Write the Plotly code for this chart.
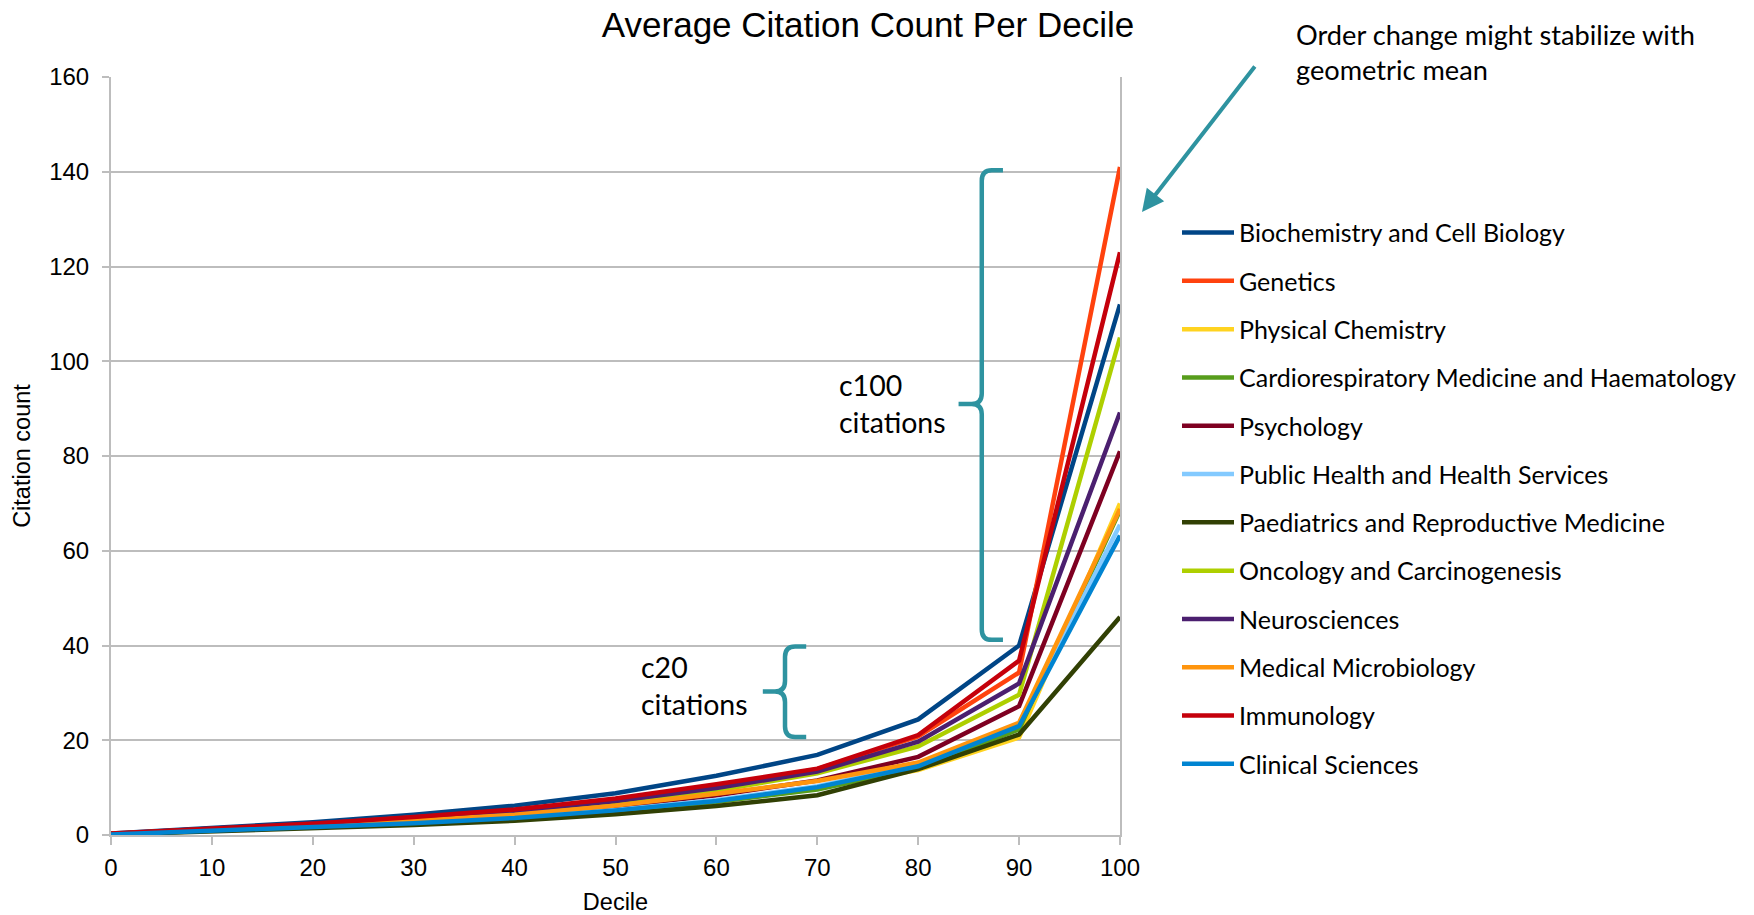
import plotly.graph_objects as go

deciles = [0, 10, 20, 30, 40, 50, 60, 70, 80, 90, 100]

biochemistry = [0.3, 1.5, 2.7, 4.3, 6.2, 8.8, 12.5, 16.9, 24.4, 40.0, 112.0]
genetics = [0.2, 1.3, 2.3, 3.7, 5.1, 7.4, 10.2, 13.9, 20.8, 34.3, 141.0]
physical_chemistry = [0.1, 0.9, 1.6, 2.5, 3.5, 5.0, 7.0, 10.0, 13.7, 20.6, 70.0]
cardiorespiratory = [0.1, 1.0, 1.7, 2.6, 3.6, 5.0, 7.0, 9.6, 14.2, 22.3, 68.5]
psychology = [0.2, 1.2, 2.0, 3.1, 4.4, 6.0, 8.4, 11.5, 16.5, 27.2, 81.0]
public_health = [0.1, 1.0, 1.7, 2.7, 3.8, 5.3, 7.4, 10.3, 14.8, 23.4, 65.5]
paediatrics = [0.1, 0.8, 1.3, 2.1, 3.0, 4.4, 6.1, 8.4, 13.9, 21.2, 46.0]
oncology = [0.2, 1.2, 2.2, 3.4, 4.8, 6.8, 9.4, 13.0, 18.7, 29.6, 105.0]
neurosciences = [0.2, 1.3, 2.3, 3.6, 5.0, 7.2, 9.9, 13.4, 19.7, 32.0, 89.2]
medical_microbiology = [0.2, 1.1, 1.9, 3.0, 4.3, 6.2, 8.7, 11.4, 15.3, 23.7, 68.8]
immunology = [0.3, 1.4, 2.4, 3.8, 5.4, 7.7, 10.7, 14.0, 21.1, 36.8, 123.0]
clinical_sciences = [0.1, 0.9, 1.6, 2.5, 3.6, 5.2, 7.2, 10.1, 14.5, 23.0, 63.2]

series_names = [
    "Biochemistry and Cell Biology",
    "Genetics",
    "Physical Chemistry",
    "Cardiorespiratory Medicine and Haematology",
    "Psychology",
    "Public Health and Health Services",
    "Paediatrics and Reproductive Medicine",
    "Oncology and Carcinogenesis",
    "Neurosciences",
    "Medical Microbiology",
    "Immunology",
    "Clinical Sciences",
]
series_values = [
    biochemistry, genetics, physical_chemistry, cardiorespiratory, psychology,
    public_health, paediatrics, oncology, neurosciences, medical_microbiology,
    immunology, clinical_sciences,
]
series_colors = [
    "#004586", "#ff420e", "#ffd320", "#579d1c", "#7e0021", "#83caff",
    "#314004", "#aecf00", "#4b1f6f", "#ff950e", "#c5000b", "#0084d1",
]

TEAL = "#2e93a0"
GRID = "#bdbdbd"

fig = go.Figure()
for name, vals, col in zip(series_names, series_values, series_colors):
    fig.add_trace(go.Scatter(
        x=deciles, y=vals, name=name, mode="lines",
        line=dict(color=col, width=4.5),
        legendgroup=name,
    ))


def brace(xv, xe, xt, yt, yb, ym, rx=1.0, ry=2.2):
    return (
        f"M {xe},{yt} L {xv + rx},{yt} Q {xv},{yt} {xv},{yt - ry} "
        f"L {xv},{ym + ry} Q {xv},{ym} {xv - rx},{ym} L {xt},{ym} "
        f"M {xv - rx},{ym} Q {xv},{ym} {xv},{ym - ry} "
        f"L {xv},{yb + ry} Q {xv},{yb} {xv + rx},{yb} L {xe},{yb}"
    )


shapes = [
    dict(type="path", xref="x", yref="y",
         path=brace(86.3, 88.4, 84.0, 140.3, 41.2, 91.0),
         line=dict(color=TEAL, width=4.5)),
    dict(type="path", xref="x", yref="y",
         path=brace(66.8, 68.9, 64.6, 39.8, 20.7, 30.3),
         line=dict(color=TEAL, width=4.5)),
]

ann_font = "Lato, 'Open Sans', sans-serif"
annotations = [
    dict(x=72.0, y=91.0, xref="x", yref="y", text="c100<br>citations",
         showarrow=False, xanchor="left", yanchor="middle", align="left",
         font=dict(family=ann_font, size=28.5, color="#000000")),
    dict(x=52.3, y=31.5, xref="x", yref="y", text="c20<br>citations",
         showarrow=False, xanchor="left", yanchor="middle", align="left",
         font=dict(family=ann_font, size=28.5, color="#000000")),
    dict(x=1.172, y=1.033, xref="paper", yref="paper",
         text="Order change might stabilize with<br>geometric mean",
         showarrow=False, xanchor="left", yanchor="middle", align="left",
         font=dict(family=ann_font, size=27.2, color="#000000")),
    dict(x=1.0218, y=0.8219, xref="paper", yref="paper", text="",
         showarrow=True, ax=114, ay=-147, axref="pixel", ayref="pixel",
         arrowhead=2, arrowsize=1.1, arrowwidth=4, arrowcolor=TEAL),
]

fig.update_layout(
    width=1754, height=915,
    margin=dict(l=111, r=634, t=77, b=80),
    paper_bgcolor="#ffffff", plot_bgcolor="#ffffff",
    font=dict(family="'Liberation Sans', Arial, sans-serif", color="#000000"),
    title=dict(
        text="Average Citation Count Per Decile",
        x=0.4949, xref="container", xanchor="center",
        y=0.973, yref="container", yanchor="middle",
        font=dict(family="'Liberation Sans', Arial, sans-serif", size=35, color="#000000"),
    ),
    xaxis=dict(
        range=[0, 100], tickvals=deciles, ticks="outside", ticklen=8,
        tickcolor=GRID, tickwidth=2, ticklabelstandoff=2,
        showgrid=False, showline=True, linecolor=GRID, linewidth=2,
        zeroline=False, automargin=False,
        tickfont=dict(size=24),
        title=dict(text="Decile", font=dict(size=23.5), standoff=19),
    ),
    yaxis=dict(
        range=[0, 160], dtick=20, ticks="outside", ticklen=7,
        tickcolor=GRID, tickwidth=2, ticklabelstandoff=8,
        showgrid=True, gridcolor=GRID, gridwidth=2,
        showline=True, linecolor=GRID, linewidth=2, mirror=True,
        zeroline=False, automargin=False,
        tickfont=dict(size=24),
        title=dict(text="Citation count", font=dict(size=23.5), standoff=12),
    ),
    legend=dict(
        x=1177 / 1754, xref="container", xanchor="left",
        y=1 - 209.8 / 915, yref="container", yanchor="top",
        font=dict(family=ann_font, size=25, color="#000000"),
        itemwidth=52, tracegroupgap=12.8, maxheight=1.0,
        bgcolor="rgba(0,0,0,0)",
    ),
    shapes=shapes,
    annotations=annotations,
    showlegend=True,
)

fig.write_html("out.html")
